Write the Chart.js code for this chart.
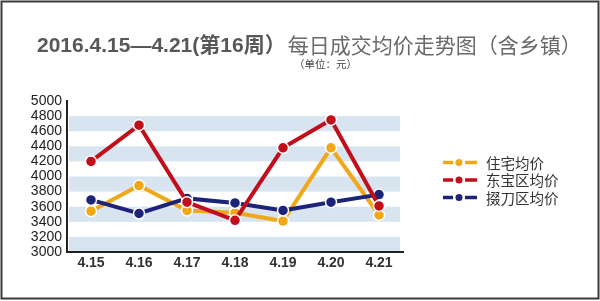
<!DOCTYPE html>
<html><head><meta charset="utf-8">
<style>html,body{margin:0;padding:0;background:#fff}canvas{display:block}</style>
<script src="https://cdn.jsdelivr.net/npm/chart.js@4.4.1/dist/chart.umd.min.js"></script>
</head><body>
<canvas id="c" width="600" height="301"></canvas>
<script>
const categories = ['4.15','4.16','4.17','4.18','4.19','4.20','4.21'];
const residentialAvg = [3540,3880,3550,3520,3410,4380,3490];
const dongbaoAvg = [4200,4680,3660,3420,4380,4750,3610];
const duodaoAvg = [3690,3510,3710,3650,3550,3660,3760];
const seriesNames = ['住宅均价','东宝区均价','掇刀区均价'];
const seriesColors = ['#f0a818','#c20e1a','#1c2378'];
const yMin = 3000, yMax = 5000, yStep = 200;
const bandRanges = [[3000,3200],[3400,3600],[3800,4000],[4200,4400],[4600,4800]];
const titleBold = '2016.4.15—4.21(第16周）';
const titleRest = '每日成交均价走势图（含乡镇）';
const subtitleText = '（单位：元）';

const decor = {
  id: 'decor',
  beforeDraw(chart) {
    const ctx = chart.ctx, ca = chart.chartArea, y = chart.scales.y;
    ctx.save();
    ctx.strokeStyle = '#3a3a3a'; ctx.lineWidth = 2;
    ctx.strokeRect(1.5, 1.5, 597, 297);
    ctx.fillStyle = '#d8e4f0';
    bandRanges.forEach(([a, b]) => {
      const y1 = y.getPixelForValue(b), y2 = y.getPixelForValue(a);
      ctx.fillRect(ca.left + 2, y1, ca.right - ca.left - 5, y2 - y1);
    });
    ctx.textBaseline = 'middle';
    ctx.textAlign = 'left';
    ctx.font = "bold 21px 'Liberation Sans', Arial, 'Noto Sans CJK SC'";
    ctx.fillStyle = '#585858';
    const x0 = 37;
    ctx.fillText(titleBold, x0, 46);
    const w = ctx.measureText(titleBold).width;
    ctx.font = "21px 'Noto Sans CJK SC'";
    ctx.fillStyle = '#6a6a6a';
    ctx.fillText(titleRest, x0 + w + 2, 45);
    ctx.font = "10.5px 'Noto Sans CJK SC'";
    ctx.fillStyle = '#444';
    ctx.fillText(subtitleText, 294, 64);
    ctx.restore();
  },
  afterDraw(chart) {
    const ctx = chart.ctx;
    ctx.save();
    chart.data.datasets.forEach((ds, i) => {
      const cy = 162.5 + i * 17.5;
      ctx.strokeStyle = ds.borderColor; ctx.lineWidth = 3.5; ctx.lineCap = 'butt';
      ctx.beginPath(); ctx.moveTo(443, cy); ctx.lineTo(453, cy); ctx.stroke();
      ctx.beginPath(); ctx.moveTo(465, cy); ctx.lineTo(477, cy); ctx.stroke();
      ctx.fillStyle = ds.borderColor;
      ctx.beginPath(); ctx.arc(459, cy, 3.5, 0, Math.PI * 2); ctx.fill();
      ctx.font = "14.5px 'Noto Sans CJK SC'";
      ctx.fillStyle = '#333'; ctx.textBaseline = 'middle'; ctx.textAlign = 'left';
      ctx.fillText(ds.label, 486, cy + 0.5);
    });
    ctx.restore();
  }
};

function mk(label, data, color, order) {
  return { label, data, borderColor: color, backgroundColor: color,
    pointBackgroundColor: color, pointBorderColor: '#fff', pointBorderWidth: 1.5,
    pointRadius: 5.5, borderWidth: 4, tension: 0, order };
}

new Chart(document.getElementById('c'), {
  type: 'line',
  data: {
    labels: categories,
    datasets: [
      mk(seriesNames[0], residentialAvg, seriesColors[0], 2),
      mk(seriesNames[1], dongbaoAvg, seriesColors[1], 0),
      mk(seriesNames[2], duodaoAvg, seriesColors[2], 1)
    ]
  },
  options: {
    responsive: false, animation: false, devicePixelRatio: 1,
    layout: { padding: { left: 0, right: 197, top: 101, bottom: 29 } },
    plugins: { legend: { display: false }, tooltip: { enabled: false } },
    scales: {
      x: {
        offset: true,
        grid: { display: false, drawTicks: false },
        border: { display: true, color: '#222', width: 2 },
        ticks: { color: '#333', padding: 3, autoSkip: false, maxRotation: 0, font: { family: "'Liberation Sans', Arial", size: 14, weight: 'bold' } },
        afterFit(s) { s.height = 20; }
      },
      y: {
        min: yMin, max: yMax,
        grid: { display: false, drawTicks: false },
        border: { display: true, color: '#222', width: 2 },
        ticks: { stepSize: yStep, autoSkip: false, color: '#222', padding: 5,
          callback: v => String(v),
          font: { family: "'Liberation Sans', Arial", size: 14 } },
        afterFit(s) { s.width = 67; }
      }
    }
  },
  plugins: [decor]
});
</script>
</body></html>
